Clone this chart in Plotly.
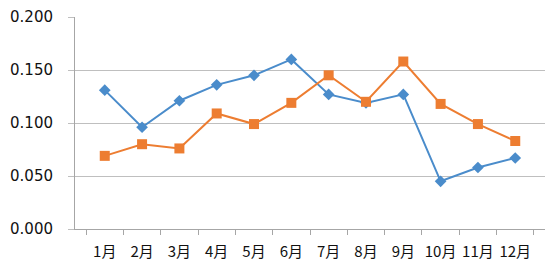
import plotly.graph_objects as go

months = ["1月", "2月", "3月", "4月", "5月", "6月", "7月", "8月", "9月", "10月", "11月", "12月"]
series_blue = [0.131, 0.096, 0.121, 0.136, 0.145, 0.160, 0.127, 0.119, 0.127, 0.045, 0.058, 0.067]
series_orange = [0.069, 0.080, 0.076, 0.109, 0.099, 0.119, 0.145, 0.120, 0.158, 0.118, 0.099, 0.083]
y_ticks = [0.0, 0.05, 0.1, 0.15, 0.2]
y_ticklabels = ["0.000", "0.050", "0.100", "0.150", "0.200"]

fig = go.Figure()
fig.add_trace(go.Scatter(x=months, y=series_blue, mode="lines+markers",
                         line=dict(color="#4A8CCB", width=2),
                         marker=dict(symbol="diamond", size=9, color="#4A8CCB"),
                         showlegend=False))
fig.add_trace(go.Scatter(x=months, y=series_orange, mode="lines+markers",
                         line=dict(color="#ED7D31", width=2),
                         marker=dict(symbol="square", size=10, color="#ED7D31"),
                         showlegend=False))

fig.update_layout(
    width=550, height=263,
    margin=dict(l=75, r=5, t=17, b=34),
    paper_bgcolor="white", plot_bgcolor="white",
    font=dict(family="DejaVu Sans, Noto Sans CJK SC", size=15, color="#111111"),
)
fig.update_xaxes(type="category", showgrid=False, showline=True, linecolor="#A6A6A6",
                 linewidth=1, ticks="outside", tickson="boundaries", ticklen=5,
                 tickcolor="#A6A6A6", tickangle=0, automargin=False,
                 ticklabelstandoff=9,
                 tickfont=dict(family="Noto Sans CJK SC, DejaVu Sans", size=15, color="#111111"))
fig.update_yaxes(range=[0, 0.2], tickvals=y_ticks, ticktext=y_ticklabels,
                 showgrid=True, gridcolor="#BFBFBF", gridwidth=1,
                 showline=True, linecolor="#A6A6A6", linewidth=1,
                 ticks="outside", ticklen=6, tickcolor="#BFBFBF",
                 ticklabelstandoff=12, automargin=False,
                 zeroline=False)

fig.write_html("out.html")
